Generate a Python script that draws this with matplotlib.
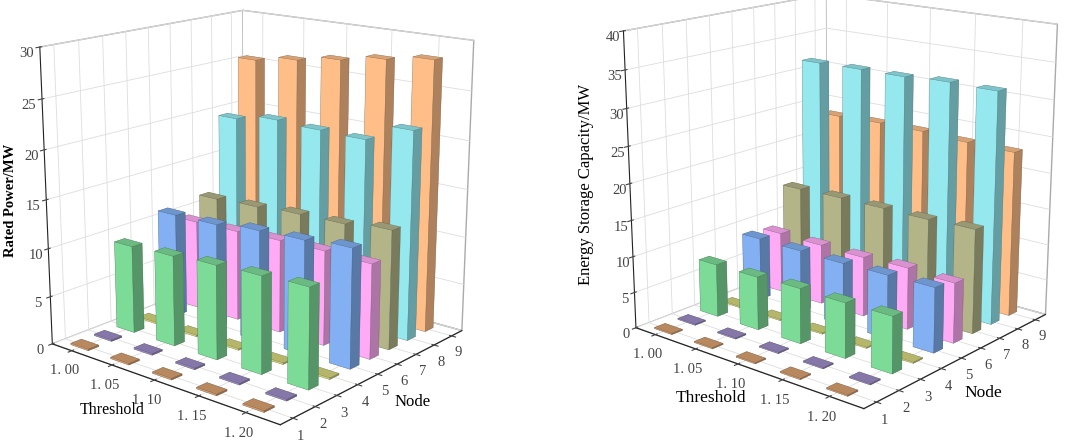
import matplotlib.pyplot as plt
import numpy as np
from matplotlib.colors import to_rgb

plt.rcParams['font.family'] = ['Liberation Serif', 'DejaVu Serif']

thresholds = [1.00, 1.05, 1.10, 1.15, 1.20]
threshold_labels = ['1. 00', '1. 05', '1. 10', '1. 15', '1. 20']
nodes = [1, 2, 3, 4, 5, 6, 7, 8, 9]

# rows = node 1..9, columns = threshold 1.00..1.20
rated_power = [
    [0.15, 0.15, 0.15, 0.15, 0.15],
    [0.15, 0.15, 0.15, 0.15, 0.15],
    [9.2, 9.4, 9.7, 9.9, 10.1],
    [0.15, 0.15, 0.15, 0.15, 0.15],
    [11.0, 11.1, 11.6, 11.8, 12.2],
    [9.5, 9.6, 9.8, 9.9, 9.8],
    [11.3, 11.5, 11.8, 11.9, 12.4],
    [19.5, 20.2, 20.0, 19.9, 21.7],
    [25.35, 26.05, 26.75, 27.5, 28.15],
]
storage_capacity = [
    [0.15, 0.15, 0.15, 0.15, 0.15],
    [0.15, 0.15, 0.15, 0.15, 0.15],
    [7.4, 7.4, 7.6, 7.5, 7.6],
    [0.15, 0.15, 0.15, 0.15, 0.15],
    [8.9, 8.8, 8.7, 8.8, 8.9],
    [8.6, 8.5, 8.4, 8.6, 8.3],
    [14.15, 14.3, 14.3, 14.25, 14.45],
    [31.7, 31.8, 31.8, 32.1, 32.0],
    [23.2, 23.4, 23.4, 23.1, 23.0],
]

node_colors = ['#D9A070', '#9C8CC4', '#7DDB98', '#D6D67E', '#82B0F2',
               '#FFAAF4', '#B3B488', '#94E8EE', '#FFBE88']

W, H = 1065, 448


def face_colors(base):
    """Six face colours per bar: -z, +z, -y, +y, -x, +x"""
    c = np.array(to_rgb(base))
    top = c * 0.85
    dark = c * 0.68
    return [c, top, c, c, c, dark]


def draw_panel(ax, values, zmax, zlabel, zlabel_size, zlabel_weight, zpad, ztickpad):
    bx, by, bz, bh, cols = [], [], [], [], []
    dx, dy = 0.022, 0.45
    for i, node in enumerate(nodes):
        for j, thr in enumerate(thresholds):
            bx.append(thr - dx / 2)
            by.append(node - dy / 2)
            bz.append(0)
            bh.append(values[i][j])
            cols.extend(face_colors(node_colors[i]))
    ax.bar3d(bx, by, bz, dx, dy, bh, color=cols, shade=False,
             edgecolor=(0.2, 0.2, 0.2, 0.35), linewidth=0.3)

    ax.set_xlim(0.975, 1.235)
    ax.set_ylim(0.45, 9.6)
    ax.set_zlim(0, zmax)
    ax.set_xticks(thresholds)
    ax.set_xticklabels(threshold_labels)
    ax.set_yticks(nodes)
    ax.set_zticks(np.arange(0, zmax + 1, 5))
    ax.tick_params(labelsize=10.5, colors='#444444')
    ax.tick_params(axis='x', pad=-2)
    ax.tick_params(axis='y', pad=-3)
    ax.tick_params(axis='z', pad=ztickpad)

    for axis in (ax.xaxis, ax.yaxis, ax.zaxis):
        axis.set_pane_color((1, 1, 1, 1))
        axis.pane.set_edgecolor('#aaaaaa')
        axis._axinfo['grid']['color'] = '#dddddd'
        axis._axinfo['grid']['linewidth'] = 0.6
        axis.line.set_color('#222222')
    ax.zaxis.set_ticks_position('lower')
    ax.zaxis.set_label_position('lower')

    ax.zaxis.set_rotate_label(False)
    ax.set_zlabel(zlabel, fontsize=zlabel_size, fontweight=zlabel_weight,
                  labelpad=zpad, rotation=90)
    ax.set_proj_type('persp', focal_length=0.6)
    ax.view_init(elev=16, azim=-50)
    ax.set_box_aspect((1, 1, 1.02), zoom=1.13)


fig = plt.figure(figsize=(W / 100, H / 100), dpi=100)
ax1 = fig.add_axes([-0.012, 0.052, 0.5, 1.0], projection='3d')
ax2 = fig.add_axes([0.536, 0.088, 0.5, 1.0], projection='3d')

draw_panel(ax1, rated_power, 30, 'Rated Power/MW', 10.5, 'bold', -7, -3)
draw_panel(ax2, storage_capacity, 40, 'Energy Storage Capacity/MW', 12, 'normal', -4, -4)

# axis titles placed where the reference shows them
fig.text(112 / W, 1 - 410 / H, 'Threshold', fontsize=11.5, ha='center', va='center')
fig.text(413 / W, 1 - 402 / H, 'Node', fontsize=12, ha='center', va='center')
fig.text(711 / W, 1 - 398 / H, 'Threshold', fontsize=12.5, ha='center', va='center')
fig.text(983 / W, 1 - 393 / H, 'Node', fontsize=12.5, ha='center', va='center')

fig.savefig('out.png', dpi=100)
